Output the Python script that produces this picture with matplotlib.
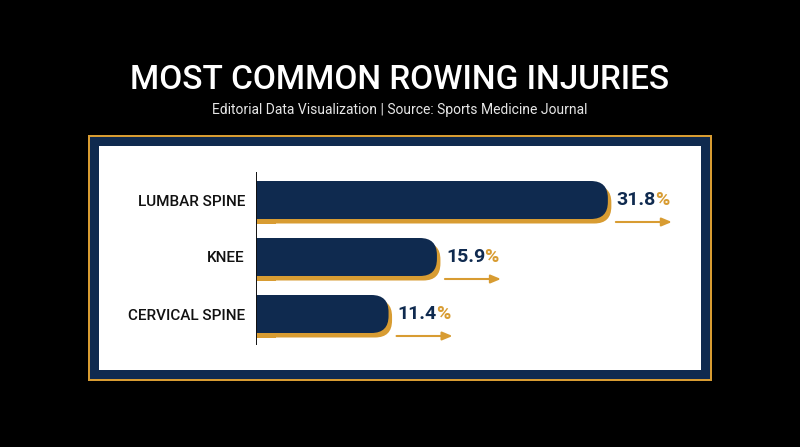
import matplotlib
matplotlib.use("Agg")
import matplotlib.pyplot as plt
from matplotlib.patches import FancyBboxPatch, Rectangle
from matplotlib import transforms

categories = ["LUMBAR SPINE", "KNEE", "CERVICAL SPINE"]
values = [31.8, 15.9, 11.4]
title = "MOST COMMON ROWING INJURIES"
subtitle = "Editorial Data Visualization | Source: Sports Medicine Journal"

NAVY = "#0f2a4f"
GOLD = "#d89c32"
W, H = 800, 447
plt.rcParams["font.family"] = ["Roboto", "DejaVu Sans"]

fig = plt.figure(figsize=(W / 100, H / 100), dpi=100, facecolor="black")

def frect(x0, y0, x1, y1, color):
    fig.patches.append(Rectangle((x0 / W, 1 - y1 / H), (x1 - x0) / W, (y1 - y0) / H,
                                 transform=fig.transFigure, facecolor=color,
                                 edgecolor="none", zorder=-5))

frect(88, 135, 712, 381, GOLD)
frect(90, 137, 710, 379, NAVY)
frect(99, 146, 701, 370, "white")

fig.text(0.5, 1 - 80 / H, title, color="white", fontsize=24, fontweight="medium",
         ha="center", va="center")
fig.text(0.5, 1 - 110 / H, subtitle, color="#e6e6e6", fontsize=10,
         ha="center", va="center")

# axes region: x from 256 to 700 px, y from 146 to 369 px
ax_l, ax_r, ax_t, ax_b = 256, 700, 146, 369
ax = fig.add_axes([ax_l / W, 1 - ax_b / H, (ax_r - ax_l) / W, (ax_b - ax_t) / H])
ax.set_facecolor("none")
ax.set_zorder(5)
sx = 10.75          # px per unit on x
sy = 57.0           # px per category on y
ax.set_xlim(0, (ax_r - ax_l) / sx)
ax.set_ylim((ax_b - 200) / sy, -(200 - ax_t) / sy)
for s in ax.spines.values():
    s.set_visible(False)

bh = 38 / sy
cap = 10 / sx
rpx = 17
rx = rpx / sx
ry = rpx / sy
dxs = 3.5 / sx
dys = 4.5 / sy

for i, (c, v) in enumerate(zip(categories, values)):
    wbar = v + cap
    # shadow
    ax.add_patch(FancyBboxPatch((0, i - bh / 2 + dys), wbar + dxs, bh,
                                boxstyle=f"round,pad=0,rounding_size={rx}",
                                mutation_aspect=ry / rx, facecolor=GOLD,
                                edgecolor="none", zorder=1))
    ax.add_patch(Rectangle((0, i - bh / 2 + dys), rx * 1.2, bh, facecolor=GOLD,
                           edgecolor="none", zorder=1))
    # bar
    ax.add_patch(FancyBboxPatch((0, i - bh / 2), wbar, bh,
                                boxstyle=f"round,pad=0,rounding_size={rx}",
                                mutation_aspect=ry / rx, facecolor=NAVY,
                                edgecolor="none", zorder=2))
    ax.add_patch(Rectangle((0, i - bh / 2), rx * 1.2, bh, facecolor=NAVY,
                           edgecolor="none", zorder=2))

ax.vlines(0, -28 / sy, 145 / sy, color="#111111", lw=1.4, zorder=3)
ax.set_xticks([])
ax.set_yticks(range(len(categories)))
ax.set_yticklabels(categories, fontsize=11, fontweight="medium", color="#111111")
ax.tick_params(axis="y", length=0, pad=8)

fig.canvas.draw()
r = fig.canvas.get_renderer()
for i, v in enumerate(values):
    xs = v + cap + 9 / sx
    t = ax.text(xs, i, f"{v:.1f}", color=NAVY, fontsize=14, fontweight="bold",
                va="center", ha="left", zorder=4)
    ext = t.get_window_extent(renderer=r)
    tr = transforms.offset_copy(ax.transData, fig=fig, x=ext.width - 1.0, y=0,
                                units="dots")
    ax.text(xs, i, "%", color=GOLD, fontsize=14, fontweight="bold",
            va="center", ha="left", transform=tr, zorder=4)
    ya = i + 22 / sy
    ax.annotate("", xy=(xs + 55 / sx, ya), xytext=(xs - 1 / sx, ya),
                arrowprops=dict(arrowstyle="-|>,head_length=0.6,head_width=0.25",
                                color=GOLD, lw=1.5, shrinkA=0, shrinkB=0),
                zorder=4)

fig.savefig("out.png", dpi=100, facecolor="black")
